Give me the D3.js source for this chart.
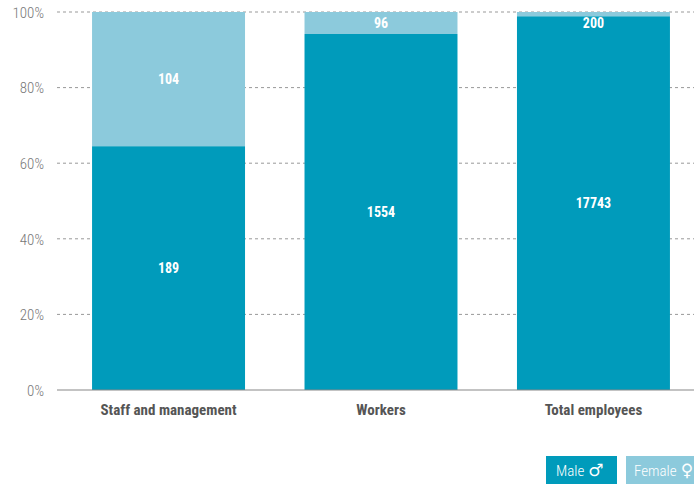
<!DOCTYPE html>
<html>
<head>
<meta charset="utf-8">
<script src="https://cdn.jsdelivr.net/npm/d3@7"></script>
<style>
  html, body { margin: 0; padding: 0; background: #fff; }
  svg { display: block; }
  .cond { font-family: "Liberation Sans Narrow", "Roboto Condensed", Roboto, sans-serif; font-stretch: condensed; }
</style>
</head>
<body>
<svg id="chart" width="694" height="484"></svg>
<script>
// Headcount by group and gender
const categories = ["Staff and management", "Workers", "Total employees"];
const male = [189, 1554, 17743];
const female = [104, 96, 200];
const yTicks = [0, 20, 40, 60, 80, 100];
const seriesNames = ["Male", "Female"];
const seriesSymbols = ["\u2642", "\u2640"];
const colors = ["#009bbb", "#8ccadc"];

const W = 694, H = 484;
const svg = d3.select("#chart");

const x = d3.scaleBand()
  .domain(categories)
  .range([57, 705])
  .paddingInner(0.28)
  .paddingOuter(0.165);

const y = d3.scaleLinear().domain([0, 100]).range([390, 12]);

// Shares of each group in percent
const rows = categories.map((c, i) => {
  const total = male[i] + female[i];
  return { cat: c, male: male[i], female: female[i],
           mPct: male[i] / total * 100 };
});

// Dotted gridlines
const grid = svg.append("g");
yTicks.filter(t => t > 0).forEach(t => {
  grid.append("line")
    .attr("x1", 57).attr("x2", W)
    .attr("y1", y(t)).attr("y2", y(t))
    .attr("stroke", "#999").attr("stroke-width", 1)
    .attr("stroke-dasharray", "3,3");
});

// Y axis labels
const yAxis = svg.append("g")
  .attr("transform", "translate(44,0)")
  .call(d3.axisLeft(y).tickValues(yTicks).tickSize(0).tickPadding(0).tickFormat(d => d + "%"));
yAxis.select(".domain").remove();
yAxis.selectAll("text")
  .attr("class", "cond")
  .style("font-size", "15px")
  .style("font-weight", "300")
  .attr("fill", "#777")
  .attr("dy", "0.35em");

// Bars
const bars = svg.append("g");
rows.forEach(r => {
  bars.append("rect")
    .attr("x", x(r.cat)).attr("width", x.bandwidth())
    .attr("y", y(r.mPct)).attr("height", y(0) - y(r.mPct))
    .attr("fill", colors[0]);
  bars.append("rect")
    .attr("x", x(r.cat)).attr("width", x.bandwidth())
    .attr("y", y(100)).attr("height", y(r.mPct) - y(100))
    .attr("fill", colors[1]);
});

// Baseline
svg.append("line")
  .attr("x1", 57).attr("x2", W)
  .attr("y1", y(0)).attr("y2", y(0))
  .attr("stroke", "#888").attr("stroke-width", 1.2);

// Value labels
const labels = svg.append("g").attr("class", "cond")
  .attr("fill", "#fff").attr("text-anchor", "middle")
  .style("font-size", "14px").style("font-weight", "bold");
rows.forEach(r => {
  const cx = x(r.cat) + x.bandwidth() / 2;
  labels.append("text")
    .attr("x", cx).attr("y", (y(r.mPct) + y(0)) / 2)
    .attr("dy", "0.35em").text(r.male);
  const fy = Math.max((y(100) + y(r.mPct)) / 2, y(100) + 11);
  labels.append("text")
    .attr("x", cx).attr("y", fy)
    .attr("dy", "0.35em").text(r.female);
});

// Category labels
const xAxis = svg.append("g")
  .attr("transform", "translate(0,390)")
  .call(d3.axisBottom(x).tickSize(0).tickPadding(14));
xAxis.select(".domain").remove();
xAxis.selectAll("text")
  .attr("class", "cond")
  .style("font-size", "15px")
  .style("font-weight", "bold")
  .attr("fill", "#555");

// Legend
const legendBoxes = [{ x: 546, w: 71, tx: 556 }, { x: 626, w: 68, tx: 634 }];
const legend = svg.append("g");
seriesNames.forEach((name, i) => {
  const b = legendBoxes[i];
  const g = legend.append("g");
  g.append("rect")
    .attr("x", b.x).attr("y", 456).attr("width", b.w).attr("height", 28)
    .attr("fill", colors[i]);
  const t = g.append("text")
    .attr("x", b.tx).attr("y", 476)
    .attr("fill", "#fff");
  t.append("tspan").attr("class", "cond")
    .style("font-size", "15px").style("font-weight", "300").text(name);
  t.append("tspan")
    .attr("dx", 4)
    .style("font-family", "DejaVu Sans, sans-serif")
    .style("font-size", "17px").style("font-weight", "bold").text(seriesSymbols[i]);
});
</script>
</body>
</html>
